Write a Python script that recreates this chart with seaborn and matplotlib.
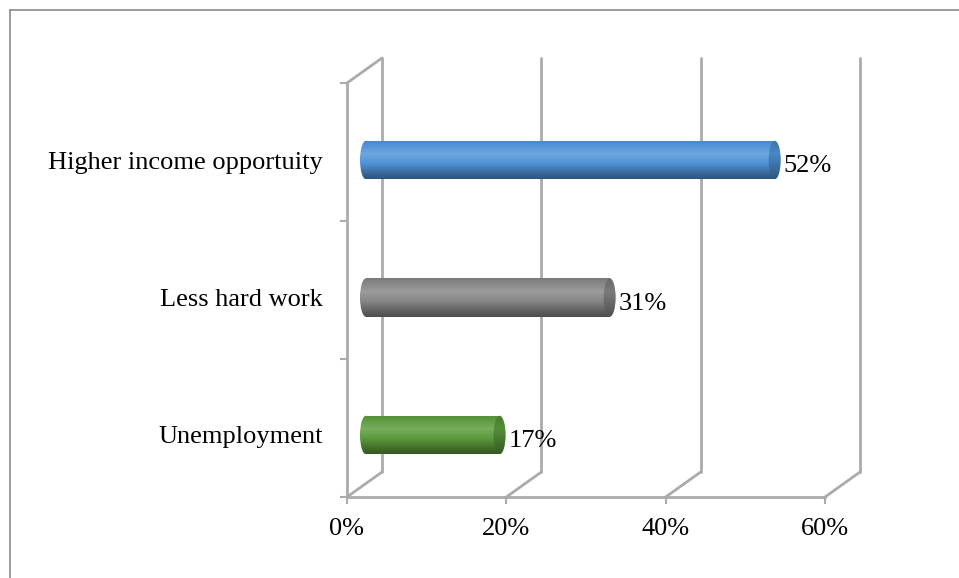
import numpy as np
import pandas as pd
import matplotlib
matplotlib.use("Agg")
import matplotlib.pyplot as plt
import matplotlib.transforms as mtransforms
from matplotlib.patches import Ellipse
from matplotlib.lines import Line2D
from matplotlib.colors import to_rgb
import seaborn as sns

# Survey reasons and their shares (%)
categories = ["Higher income opportuity", "Less hard work", "Unemployment"]
values = [52, 31, 17]
bar_colors = ["#4f92d6", "#858585", "#5b9a3c"]
x_ticks = [0, 20, 40, 60]
x_tick_labels = ["0%", "20%", "40%", "60%"]

sns.set_style("white")
plt.rcParams["font.family"] = ["Liberation Serif", "DejaVu Serif"]
plt.rcParams["text.color"] = "black"
plt.rcParams["xtick.color"] = "black"
plt.rcParams["ytick.color"] = "black"

FS = 19
W, H = 959, 578
DPI = 100
fig = plt.figure(figsize=(W / DPI, H / DPI), dpi=DPI)
fig.patch.set_facecolor("white")

grid_col = "#ababab"
grid_lw = 2.0
depth = (35, 25)  # px shift from the front plane to the back wall

# ---- frame axes: front plane of the 3D box ----
fx0, fx1, fy_top, fy_bot = 347, 825, 83, 497
axf = fig.add_axes([fx0 / W, (H - fy_bot) / H, (fx1 - fx0) / W, (fy_bot - fy_top) / H])
axf.set_xlim(0, 60)
axf.set_ylim(0, 3)
axf.patch.set_alpha(0)
for s in ["top", "right"]:
    axf.spines[s].set_visible(False)
for s in ["left", "bottom"]:
    axf.spines[s].set_color(grid_col)
    axf.spines[s].set_linewidth(grid_lw)
axf.set_xticks(x_ticks)
axf.set_xticklabels(x_tick_labels, fontsize=FS, color="black")
axf.set_yticks([0, 1, 2, 3])
axf.set_yticklabels([])
axf.tick_params(axis="both", direction="out", length=5, width=1.5, color=grid_col,
                left=True, bottom=True)
axf.tick_params(axis="x", pad=10)

back = axf.transData + mtransforms.ScaledTranslation(depth[0] / DPI, depth[1] / DPI, fig.dpi_scale_trans)

# back-wall gridlines
for v in x_ticks:
    axf.plot([v, v], [0, 3], color=grid_col, lw=grid_lw, transform=back, clip_on=False, zorder=1)

# floor diagonals and top of the side wall
fig.canvas.draw()
def diag(xv, yv):
    p0 = axf.transData.transform((xv, yv))
    p1 = back.transform((xv, yv))
    fig.add_artist(Line2D([p0[0], p1[0]], [p0[1], p1[1]], color=grid_col, lw=grid_lw,
                          transform=mtransforms.IdentityTransform()))

for v in x_ticks:
    diag(v, 0)
diag(0, 3)

# ---- bar axes: cylinders sit midway in depth ----
px_per = 7.86
xmin = -2
bx0, bx1 = 366 + xmin * px_per, 366 + px_per * 60
by_top, by_bot = 160 - 137.5 * 0.5, 160 + 137.5 * 2.5
axb = fig.add_axes([bx0 / W, (H - by_bot) / H, (bx1 - bx0) / W, (by_bot - by_top) / H])
df = pd.DataFrame({"reason": categories, "share": values})
sns.barplot(data=df, x="share", y="reason", hue="reason", palette=bar_colors,
            orient="h", width=0.28, ax=axb, legend=False)
axb.patch.set_alpha(0)
for s in axb.spines.values():
    s.set_visible(False)
axb.set_xticks([])
axb.set_xlabel("")
axb.set_ylabel("")
label_right = 323  # px where category names end
axb.tick_params(axis="y", length=0, pad=(bx0 - label_right) * 72 / DPI, labelsize=FS, labelcolor="black")

cap_w = 12 / px_per  # cap width in data units


def shade(rgb, stops):
    t = np.linspace(0, 1, 64)
    k = np.interp(t, [s[0] for s in stops], [s[1] for s in stops])
    c = np.array(rgb)[None, :]
    kk = k[:, None]
    out = np.where(kk <= 1, c * kk, c + (1 - c) * (kk - 1))
    return np.clip(out, 0, 1)[:, None, :]


body_stops = [(0, 0.92), (0.35, 1.18), (0.6, 1.0), (0.85, 0.72), (1.0, 0.58)]
cap_stops = [(0, 0.8), (0.35, 0.92), (0.7, 0.75), (1.0, 0.6)]

for patch, col, v in zip(axb.patches, bar_colors, values):
    rgb = to_rgb(col)
    x0 = patch.get_x()
    y0 = patch.get_y()
    h = patch.get_height()
    w = patch.get_width()
    patch.set_facecolor("none")
    patch.set_edgecolor("none")
    grad = shade(rgb, body_stops)
    # rounded far end of the cylinder at zero
    left = Ellipse((x0, y0 + h / 2), cap_w, h, facecolor="none", edgecolor="none")
    axb.add_patch(left)
    im0 = axb.imshow(grad, extent=(x0 - cap_w, x0 + cap_w, y0 + h, y0), aspect="auto",
                     interpolation="bilinear", zorder=2)
    im0.set_clip_path(left)
    im = axb.imshow(grad, extent=(x0, x0 + w, y0 + h, y0), aspect="auto",
                    interpolation="bilinear", zorder=2)
    im.set_clip_path(patch)
    # near end cap
    cap = Ellipse((x0 + w, y0 + h / 2), cap_w, h, facecolor="none", edgecolor="none", zorder=3)
    axb.add_patch(cap)
    im2 = axb.imshow(shade(rgb, cap_stops), extent=(x0 + w - cap_w, x0 + w + cap_w, y0 + h, y0),
                     aspect="auto", interpolation="bilinear", zorder=3)
    im2.set_clip_path(cap)
    axb.annotate(f"{v}%", xy=(x0 + w, y0 + h / 2), xytext=(6.5, -4.5), textcoords="offset points",
                 ha="left", va="center", fontsize=FS, color="black", annotation_clip=False)

axb.set_xlim(xmin, 60)
axb.set_ylim(2.5, -0.5)

# outer chart border
border = "#8a8a8a"
fig.add_artist(Line2D([10 / W, 10 / W], [0, 1 - 10 / H], color=border, lw=1.2, transform=fig.transFigure))
fig.add_artist(Line2D([10 / W, 1], [1 - 10 / H, 1 - 10 / H], color=border, lw=1.2, transform=fig.transFigure))

fig.savefig("out.png", dpi=DPI)
